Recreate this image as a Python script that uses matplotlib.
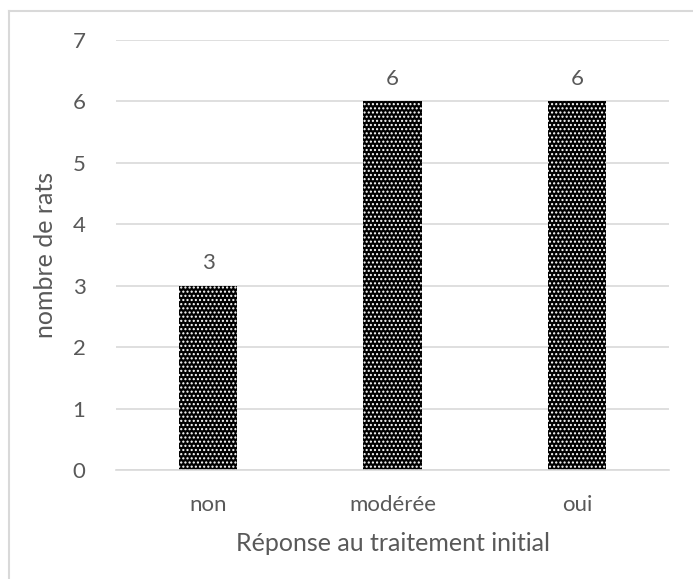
import matplotlib
matplotlib.use("Agg")
import matplotlib.pyplot as plt
from matplotlib.lines import Line2D

categories = ["non", "modérée", "oui"]
values = [3, 6, 6]
y_ticks = [0, 1, 2, 3, 4, 5, 6, 7]

plt.rcParams['font.family'] = ['Lato', 'DejaVu Sans']
plt.rcParams['hatch.linewidth'] = 1.0
text_color = "#595959"
grid_color = "#d9d9d9"

fig = plt.figure(figsize=(6.93, 5.79), dpi=100)
ax = fig.add_axes([116 / 693, 1 - 470 / 579, 553 / 693, 430 / 579])

x = range(len(categories))
# black fill first, then white dot hatch on top
ax.bar(x, values, width=0.315, color="black", linewidth=0, zorder=2)
ax.bar(x, values, width=0.315, fill=False, hatch="....", edgecolor="white",
       linewidth=0, zorder=3)

for xi, v in zip(x, values):
    ax.text(xi, v + 0.2, str(v), ha="center", va="bottom", fontsize=16,
            color=text_color)

ax.set_xlim(-0.5, len(categories) - 0.5)
ax.set_ylim(0, 7)
ax.set_yticks(y_ticks)
ax.set_xticks(list(x))
ax.set_xticklabels(categories)
ax.yaxis.grid(True, color=grid_color, linewidth=1.2, zorder=0)
ax.set_axisbelow(True)
for s in ["top", "right", "left"]:
    ax.spines[s].set_visible(False)
ax.spines["bottom"].set_color(grid_color)
ax.spines["bottom"].set_linewidth(1.2)
ax.tick_params(axis="both", length=0, labelsize=16, colors=text_color)
ax.tick_params(axis="y", pad=22)
ax.tick_params(axis="x", pad=18)

ax.set_ylabel("nombre de rats", fontsize=18, color=text_color, labelpad=11)
ax.set_xlabel("Réponse au traitement initial", fontsize=18, color=text_color,
              labelpad=12)

# outer chart frame (only top and left visible in the crop)
fig.add_artist(Line2D([8.5 / 693, 1], [1 - 10.5 / 579, 1 - 10.5 / 579],
                      color=grid_color, linewidth=1.5, transform=fig.transFigure))
fig.add_artist(Line2D([8.5 / 693, 8.5 / 693], [0, 1 - 10.5 / 579],
                      color=grid_color, linewidth=1.5, transform=fig.transFigure))

fig.savefig("out.png", dpi=100)
